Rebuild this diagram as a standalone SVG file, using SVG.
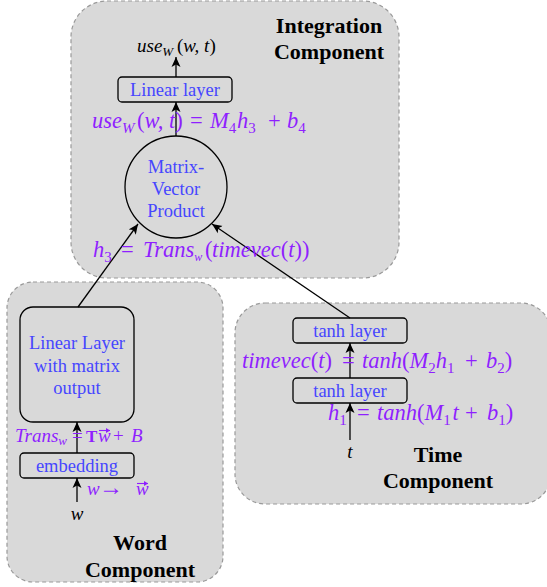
<svg xmlns="http://www.w3.org/2000/svg" width="547" height="587" viewBox="0 0 547 587">
<defs>
<marker id="arr" markerUnits="userSpaceOnUse" markerWidth="10" markerHeight="10" refX="10" refY="5" orient="auto">
<path d="M0,0.5 L10,5 L0,9.5 L2.5,5 Z" fill="#000"/>
</marker>
<marker id="vec" markerUnits="userSpaceOnUse" markerWidth="5" markerHeight="5" refX="4" refY="2.5" orient="auto">
<path d="M0,0 L4,2.5 L0,5 Z" fill="#8f1fff"/>
</marker>
<style>
.panel{fill:#d9d9d9;stroke:#999;stroke-width:1.2;stroke-dasharray:4 3}
.box{fill:none;stroke:#000;stroke-width:1.3}
.lbl{font-family:"Liberation Serif","Times New Roman",serif;font-size:18.5px;fill:#4646ff;text-anchor:middle}
.ttl{font-family:"Liberation Serif","Times New Roman",serif;font-size:22px;font-weight:bold;fill:#000;text-anchor:middle}
.m{font-family:"Liberation Serif","Times New Roman",serif;font-style:italic;font-size:22.5px;fill:#8f1fff}
.ms{font-family:"Liberation Serif","Times New Roman",serif;font-style:italic;font-size:19px;fill:#8f1fff}
.k{font-family:"Liberation Serif","Times New Roman",serif;font-style:italic;font-size:19px;fill:#000}
.up{font-style:normal}
.c{fill:none;stroke:#000;stroke-width:1.3;marker-end:url(#arr)}
.v{fill:none;stroke:#8f1fff;stroke-width:1.1;marker-end:url(#vec)}
</style>
</defs>
<g id="integration">
<rect class="panel" x="71" y="1" width="328" height="277" rx="36" ry="36"/>
<text class="ttl" x="329" y="33">Integration</text>
<text class="ttl" x="329" y="59">Component</text>
</g>
<g id="word">
<rect class="panel" x="7" y="282" width="216" height="300" rx="26" ry="26"/>
<text class="ttl" x="140" y="550">Word</text>
<text class="ttl" x="140" y="577">Component</text>
</g>
<g id="time">
<rect class="panel" x="235" y="303" width="316" height="201" rx="30" ry="30"/>
<text class="ttl" x="438" y="462">Time</text>
<text class="ttl" x="438" y="488">Component</text>
</g>
<g id="int-linear">
<rect class="box" x="118" y="77" width="114" height="25" rx="4"/>
<text class="lbl" x="175" y="96">Linear layer</text>
</g>
<g id="matvec">
<circle class="box" cx="176" cy="187" r="51"/>
<text class="lbl" x="176" y="173">Matrix-</text>
<text class="lbl" x="176" y="195">Vector</text>
<text class="lbl" x="176" y="217">Product</text>
</g>
<g id="word-linear">
<rect class="box" x="20" y="307" width="114" height="115" rx="13"/>
<text class="lbl" x="77" y="349">Linear Layer</text>
<text class="lbl" x="77" y="372">with matrix</text>
<text class="lbl" x="77" y="394">output</text>
</g>
<g id="embedding">
<rect class="box" x="20" y="453" width="114" height="25" rx="4"/>
<text class="lbl" x="77" y="472">embedding</text>
</g>
<g id="tanh2">
<rect class="box" x="293" y="318" width="114" height="25" rx="4"/>
<text class="lbl" x="350" y="337">tanh layer</text>
</g>
<g id="tanh1">
<rect class="box" x="293" y="378" width="114" height="25" rx="4"/>
<text class="lbl" x="350" y="397">tanh layer</text>
</g>
<g id="connectors">
<line class="c" x1="176" y1="77" x2="176" y2="57"/>
<line class="c" x1="176" y1="136" x2="176" y2="102"/>
<line class="c" x1="78" y1="307" x2="138" y2="224"/>
<line class="c" x1="350" y1="318" x2="212" y2="224"/>
<line class="c" x1="77" y1="453" x2="77" y2="422"/>
<line class="c" x1="77" y1="502" x2="77" y2="478"/>
<line class="c" x1="350" y1="378" x2="350" y2="343"/>
<line class="c" x1="350" y1="440" x2="350" y2="403"/>
</g>
<g id="labels">
<text class="k" x="137" y="52">use<tspan font-size="13" dy="4">W</tspan><tspan class="up" x="177" dy="-4">(</tspan>w, t<tspan class="up">)</tspan></text>
<text class="m" x="92" y="128">use<tspan font-size="15" dy="5">W</tspan><tspan class="up" x="137" dy="-5">(</tspan>w, t<tspan class="up">)</tspan><tspan class="up" x="190">=</tspan><tspan x="210">M</tspan><tspan class="up" font-size="15" dy="5">4</tspan><tspan x="237" dy="-5">h</tspan><tspan class="up" font-size="15" dy="5">3</tspan><tspan class="up" x="268" dy="-5">+</tspan><tspan x="287">b</tspan><tspan class="up" font-size="15" dy="5">4</tspan></text>
<text class="m" x="93" y="257">h<tspan class="up" font-size="15" dy="5">3</tspan><tspan class="up" x="121" dy="-5">=</tspan><tspan x="143">Trans</tspan><tspan font-size="12" dy="4">w</tspan><tspan class="up" x="205" dy="-4">(</tspan><tspan x="212">timevec</tspan><tspan class="up">(</tspan>t<tspan class="up">))</tspan></text>
<text class="ms" x="15" y="442">Trans<tspan font-size="13" dy="3">w</tspan><tspan class="up" x="72" dy="-3">=</tspan><tspan class="up" x="86" font-size="17" font-weight="bold">T</tspan><tspan x="98">w</tspan><tspan class="up" x="113">+</tspan><tspan x="131">B</tspan></text>
<path class="v" d="M99,430.5 H110"/>
<text class="ms" x="87" y="495">w<tspan class="up" x="99" font-size="24">→</tspan><tspan x="136">w</tspan></text>
<path class="v" d="M137,483.5 H148"/>
<text class="k" x="77" y="520" text-anchor="middle">w</text>
<text class="m" x="242" y="368">timevec<tspan class="up">(</tspan>t<tspan class="up">)</tspan><tspan class="up" x="342">=</tspan><tspan x="362">tanh</tspan><tspan class="up">(</tspan>M<tspan class="up" font-size="15" dy="5">2</tspan><tspan dy="-5">h</tspan><tspan class="up" font-size="15" dy="5">1</tspan><tspan class="up" x="465" dy="-5">+</tspan><tspan x="486">b</tspan><tspan class="up" font-size="15" dy="5">2</tspan><tspan class="up" dy="-5">)</tspan></text>
<text class="m" x="328" y="420">h<tspan class="up" font-size="15" dy="5">1</tspan><tspan class="up" x="357" dy="-5">=</tspan><tspan x="377">tanh</tspan><tspan class="up">(</tspan>M<tspan class="up" font-size="15" dy="5">1</tspan><tspan x="452.5" dy="-5">t</tspan><tspan class="up" x="465">+</tspan><tspan x="487">b</tspan><tspan class="up" font-size="15" dy="5">1</tspan><tspan class="up" dy="-5">)</tspan></text>
<text class="k" x="350" y="458" text-anchor="middle">t</text>
</g>
</svg>
